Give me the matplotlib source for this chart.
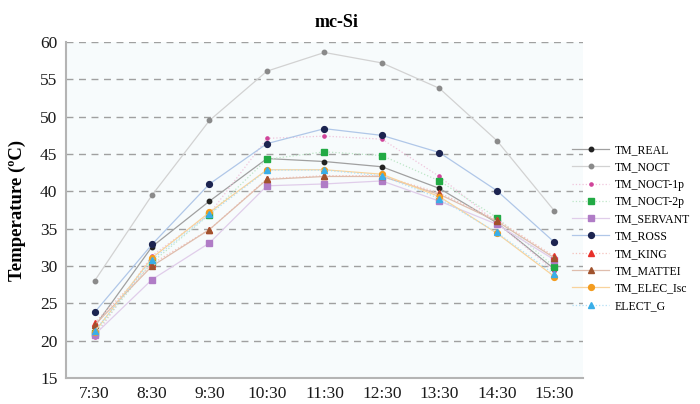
import matplotlib
matplotlib.use('Agg')
import matplotlib.pyplot as plt

plt.rcParams['font.family'] = 'Liberation Serif'
plt.rcParams['font.size'] = 12.5

# data
times = ['7:30', '8:30', '9:30', '10:30', '11:30', '12:30', '13:30', '14:30', '15:30']
TM_REAL = [21.9, 32.6, 38.7, 44.4, 44.0, 43.3, 40.4, 35.8, 29.6]
TM_NOCT = [28.0, 39.5, 49.5, 56.1, 58.6, 57.2, 53.8, 46.8, 37.4]
TM_NOCT_1p = [20.5, 31.4, 37.0, 47.1, 47.4, 47.0, 42.0, 35.8, 29.3]
TM_NOCT_2p = [21.0, 30.5, 36.9, 44.3, 45.3, 44.8, 41.4, 36.5, 29.9]
TM_SERVANT = [20.8, 28.2, 33.1, 40.75, 41.0, 41.4, 38.7, 35.6, 30.85]
TM_ROSS = [23.8, 32.9, 41.0, 46.4, 48.4, 47.5, 45.2, 40.1, 33.2]
TM_KING = [22.4, 30.3, 34.9, 41.7, 42.1, 42.1, 39.8, 36.2, 31.3]
TM_MATTEI = [22.1, 30.0, 34.9, 41.6, 42.0, 42.0, 39.6, 36.0, 31.1]
TM_ELEC_Isc = [21.2, 31.1, 37.2, 42.9, 42.9, 42.3, 39.3, 34.4, 28.6]
ELECT_G = [21.3, 30.85, 36.95, 42.85, 42.85, 42.1, 39.05, 34.5, 28.9]

series = [
    ('TM_REAL', TM_REAL, '#222222', '#a0a0a0', 'o', '-', 3.2),
    ('TM_NOCT', TM_NOCT, '#8a8a8a', '#d2d2d2', 'o', '-', 3.2),
    ('TM_NOCT-1p', TM_NOCT_1p, '#d0449a', '#f0c4dc', 'o', ':', 2.3),
    ('TM_NOCT-2p', TM_NOCT_2p, '#22aa44', '#bde6c7', 's', ':', 4.2),
    ('TM_SERVANT', TM_SERVANT, '#b07cc6', '#e0cdea', 's', '-', 4.2),
    ('TM_ROSS', TM_ROSS, '#1c2450', '#b0c7e8', 'o', '-', 4.2),
    ('TM_KING', TM_KING, '#e8302a', '#f5c0ba', '^', ':', 4.2),
    ('TM_MATTEI', TM_MATTEI, '#a0522d', '#dfbdad', '^', '-', 4.2),
    ('TM_ELEC_Isc', TM_ELEC_Isc, '#f39c1f', '#f8d39c', 'o', '-', 4.2),
    ('ELECT_G', ELECT_G, '#39aee8', '#b0def5', '^', ':', 4.2),
]

fig = plt.figure(figsize=(7, 4.04), dpi=100)
ax = fig.add_axes([0.094, 0.064, 0.739, 0.832])
ax.set_facecolor('#f7fbfc')

x = range(len(times))
for name, vals, mc, lc, mk, ls, ms in series:
    ax.plot(x, vals, color=lc, linestyle=ls, linewidth=0.9,
            marker=mk, markersize=ms, markerfacecolor=mc,
            markeredgecolor=mc, label=name)

ax.set_xlim(-0.5, 8.5)
ax.set_ylim(15, 60)
ax.set_yticks(range(15, 61, 5))
ax.set_xticks(list(x))
ax.set_xticklabels(times)
ax.yaxis.grid(True, linestyle=(0, (5, 4)), color='#a0a0a0', linewidth=1.0)
ax.set_axisbelow(True)
for s in ['top', 'right']:
    ax.spines[s].set_visible(False)
for s in ['left', 'bottom']:
    ax.spines[s].set_color('#b4b4b4')
    ax.spines[s].set_linewidth(1.5)
ax.tick_params(length=0, pad=6, colors='#1a1a1a')

ax.set_ylabel('Temperature (ºC)', fontweight='bold', fontsize=13.5, labelpad=10)
fig.text(0.481, 0.945, 'mc-Si', ha='center', va='center',
         fontweight='bold', fontsize=13)

fig.legend(loc='upper left', bbox_to_anchor=(0.806, 0.664), frameon=False,
           fontsize=8.5, handlelength=3.1, handletextpad=0.45,
           labelspacing=0.45, borderpad=0.2)

fig.savefig('out.png', dpi=100)
